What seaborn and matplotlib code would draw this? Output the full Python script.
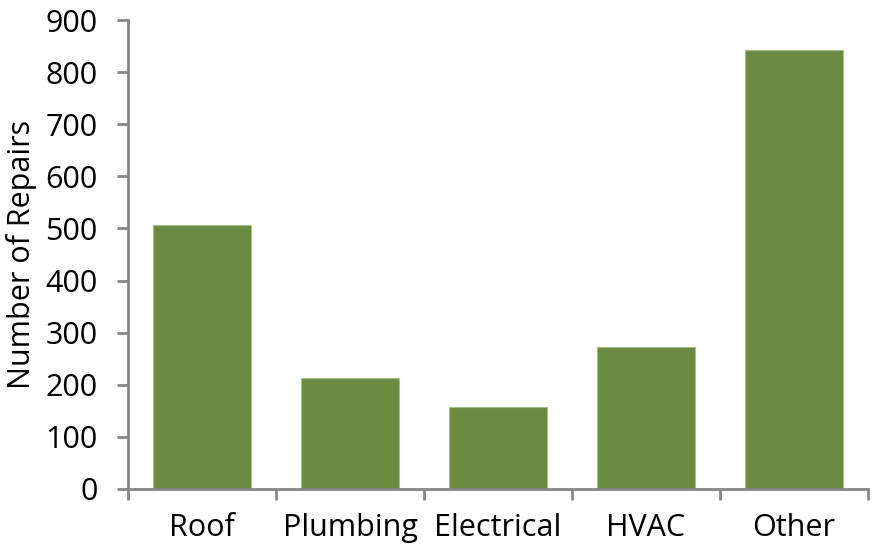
import matplotlib
matplotlib.use('Agg')
import matplotlib.pyplot as plt
import seaborn as sns
import pandas as pd
import numpy as np

# Data
categories = ['Roof', 'Plumbing', 'Electrical', 'HVAC', 'Other']
repairs = [507, 213, 157, 273, 842]

df = pd.DataFrame({'category': categories, 'repairs': repairs})

sns.set_style('white')
plt.rcParams['font.family'] = ['Open Sans', 'DejaVu Sans']
plt.rcParams['text.color'] = 'black'
plt.rcParams['axes.labelcolor'] = 'black'
plt.rcParams['xtick.color'] = 'black'
plt.rcParams['ytick.color'] = 'black'

bar_color = '#6A8A41'
axis_color = '#868686'
fsize = 22

fig = plt.figure(figsize=(8.72, 5.5), dpi=100)
ax = fig.add_axes([128 / 872, 1 - 489 / 550, 740 / 872, 469 / 550])

sns.barplot(data=df, x='category', y='repairs', color=bar_color, width=0.66,
            saturation=1, edgecolor='#A9C08A', linewidth=0.8, ax=ax)

ax.set_xlim(-0.5, len(categories) - 0.5)
ax.set_ylim(0, 900)
ax.set_yticks(np.arange(0, 901, 100))

# category labels without marks, boundary ticks as minor ticks
ax.set_xticks(range(len(categories)))
ax.set_xticklabels(categories)
ax.set_xticks(np.arange(-0.5, len(categories)), minor=True)
ax.tick_params(axis='x', which='major', bottom=True, length=0, pad=17, labelsize=fsize,
               labelcolor='black')
ax.tick_params(axis='x', which='minor', bottom=True, length=8, width=2,
               color=axis_color, direction='out')
ax.tick_params(axis='y', left=True, length=8, width=2, color=axis_color,
               direction='out', pad=14, labelsize=fsize, labelcolor='black')

for side in ['top', 'right']:
    ax.spines[side].set_visible(False)
for side in ['left', 'bottom']:
    ax.spines[side].set_color(axis_color)
    ax.spines[side].set_linewidth(2)

ax.set_xlabel('')
ax.set_ylabel('Number of Repairs', fontsize=fsize, labelpad=6, color='black')

fig.savefig('out.png', dpi=100)
plt.close()
